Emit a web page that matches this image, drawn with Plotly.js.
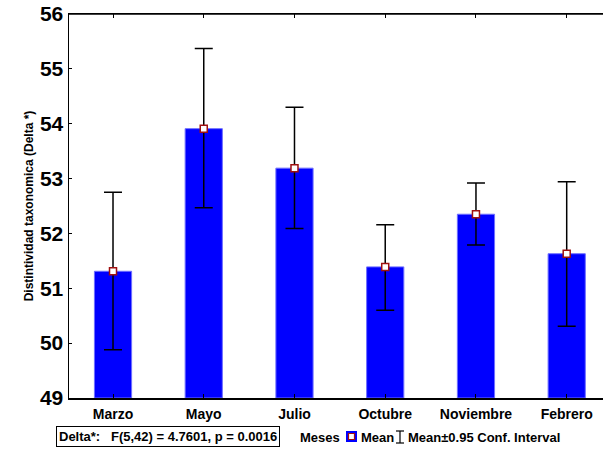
<!DOCTYPE html>
<html>
<head>
<meta charset="utf-8">
<script src="https://cdn.plot.ly/plotly-3.0.1.min.js"></script>
<style>html,body{margin:0;padding:0;background:#fff;}#chart{width:603px;height:449px;}</style>
</head>
<body>
<div id="chart"></div>
<script>
const categories = ["Marzo", "Mayo", "Julio", "Octubre", "Noviembre", "Febrero"];
const means = [51.31, 53.91, 53.19, 51.39, 52.35, 51.63];
const upperCI = [52.75, 55.37, 54.30, 52.16, 52.92, 52.94];
const lowerCI = [49.88, 52.47, 52.09, 50.60, 51.79, 50.31];
const yTicks = [49, 50, 51, 52, 53, 54, 55, 56];
const baseline = 49;

const errPlus = upperCI.map((u, i) => u - means[i]);
const errMinus = means.map((m, i) => m - lowerCI[i]);

const FONT = "Liberation Sans, Arial, sans-serif";

const bars = {
  type: "bar",
  x: categories,
  y: means.map(v => v - baseline),
  base: baseline,
  width: 0.41,
  marker: {color: "#0000FF", line: {color: "#6F6FFF", width: 1}},
  hoverinfo: "skip",
  showlegend: false
};

const pts = {
  type: "scatter",
  mode: "markers",
  x: categories,
  y: means,
  marker: {symbol: "square", size: 7, color: "#FFFFFF", line: {color: "#A01010", width: 1.5}},
  error_y: {type: "data", symmetric: false, array: errPlus, arrayminus: errMinus,
            color: "#000000", thickness: 1.5, width: 9},
  showlegend: false,
  hoverinfo: "skip"
};

// pixel helpers for legend decorations (plot area 69..603 x, 14..398 y)
const px = x => (x - 69) / 534;
const py = y => (398 - y) / 384;

const bold13 = {family: FONT, size: 13, color: "#000", weight: "bold"};

const layout = {
  width: 603, height: 449,
  margin: {l: 69, r: 0, t: 14, b: 51},
  paper_bgcolor: "#FFFFFF",
  plot_bgcolor: "#FFFFFF",
  showlegend: false,
  font: {family: FONT, color: "#000"},
  xaxis: {
    type: "category",
    range: [-0.485, 5.4],
    showline: true, linecolor: "#000", linewidth: 1.5, mirror: "ticks",
    ticks: "inside", ticklen: 4, tickcolor: "#000", tickwidth: 1,
    showgrid: false, zeroline: false,
    ticklabelstandoff: 3,
    tickfont: {family: FONT, size: 14, color: "#000", weight: "bold"},
    fixedrange: true
  },
  yaxis: {
    range: [49, 56],
    tickvals: yTicks,
    ticktext: yTicks.map(String),
    showline: true, linecolor: "#000", linewidth: 1.5, mirror: false,
    ticks: "inside", ticklen: 3, tickcolor: "#000",
    showgrid: false, zeroline: false,
    tickfont: {family: FONT, size: 21, color: "#000", weight: "bold"},
    title: {text: "Distintividad taxonomica (Delta *)", font: {family: FONT, size: 12, color: "#000", weight: "bold"}, standoff: 3},
    fixedrange: true
  },
  shapes: [
    {type: "line", xref: "paper", yref: "paper", x0: 0, x1: 1, y0: 1, y1: 1, line: {color: "#000", width: 1.5}},
    {type: "rect", xref: "paper", yref: "paper", x0: px(346), x1: px(357), y0: py(442), y1: py(431), fillcolor: "#0000FF", line: {color: "#0000FF", width: 0}},
    {type: "rect", xref: "paper", yref: "paper", x0: px(348.5), x1: px(354.5), y0: py(439.5), y1: py(433.5), fillcolor: "#FFFFFF", line: {color: "#A01010", width: 1.2}},
    {type: "line", xref: "paper", yref: "paper", x0: px(400), x1: px(400), y0: py(443), y1: py(431), line: {color: "#000", width: 1.2}},
    {type: "line", xref: "paper", yref: "paper", x0: px(396), x1: px(404), y0: py(431), y1: py(431), line: {color: "#000", width: 1.2}},
    {type: "line", xref: "paper", yref: "paper", x0: px(396), x1: px(404), y0: py(443), y1: py(443), line: {color: "#000", width: 1.2}}
  ],
  annotations: [
    {xref: "paper", yref: "paper", x: px(168), y: py(436), xanchor: "center", yanchor: "middle",
     text: "Delta*:   F(5,42) = 4.7601, p = 0.0016", showarrow: false,
     font: bold13, bordercolor: "#000", borderwidth: 1, borderpad: 2, bgcolor: "#FFFFFF"},
    {xref: "paper", yref: "paper", x: px(298), y: py(437), xanchor: "left", yanchor: "middle",
     text: "Meses", showarrow: false, font: bold13},
    {xref: "paper", yref: "paper", x: px(359), y: py(437), xanchor: "left", yanchor: "middle",
     text: "Mean", showarrow: false, font: bold13},
    {xref: "paper", yref: "paper", x: px(406), y: py(437), xanchor: "left", yanchor: "middle",
     text: "Mean±0.95 Conf. Interval", showarrow: false, font: bold13}
  ]
};

Plotly.newPlot("chart", [bars, pts], layout, {staticPlot: true, displayModeBar: false});
</script>
</body>
</html>
